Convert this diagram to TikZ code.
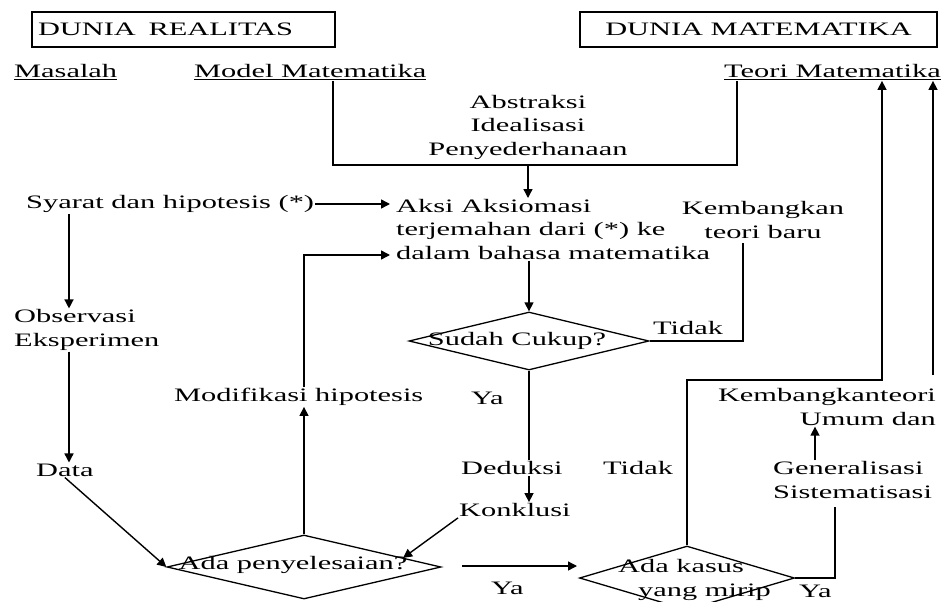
\documentclass[tikz,border=0pt]{standalone}
\usepackage{fontspec}
\setmainfont{Liberation Serif}[FakeStretch=1.6]
\usetikzlibrary{arrows.meta,shapes.geometric,calc}
\begin{document}
\begin{tikzpicture}[x=1pt,y=-1pt,
  every node/.style={inner sep=1pt, font=\fontsize{19}{23.5}\selectfont, text=black},
  box/.style={draw, line width=1.3pt, minimum height=35pt, inner xsep=6pt},
  dia/.style={draw, diamond, line width=1.3pt, inner sep=0pt},
  ln/.style={line width=1.4pt},
  arr/.style={line width=1.4pt, -{Triangle[length=9pt,width=9pt]}}]
\useasboundingbox (0,0) rectangle (950,602);
% header boxes
\node[box, text width=291pt, align=left] (dr) at (183.5,29.5) {DUNIA\ \ REALITAS};
\node[box, minimum width=357pt] (dm) at (758.5,29.5) {DUNIA MATEMATIKA};
% titles
\node[anchor=west] (masalah) at (13,72) {\underline{Masalah}};
\node[anchor=west] (model) at (193,72) {\underline{Model Matematika}};
\node[anchor=west] (teori) at (723,72) {\underline{Teori Matematika}};
% texts
\node[align=center] (abs) at (528,127) {Abstraksi\\Idealisasi\\Penyederhanaan};
\node[anchor=west] (syarat) at (25,204) {Syarat dan hipotesis (*)};
\node[anchor=north west, align=left] (aksi) at (395,198) {Aksi Aksiomasi\\terjemahan dari (*) ke\\dalam bahasa matematika};
\node[align=center] (kemb) at (763,220) {Kembangkan\\teori baru};
\node[anchor=west, align=left] (obs) at (13,330) {Observasi\\Eksperimen};
\node[anchor=west] (modif) at (173,397) {Modifikasi hipotesis};
\node[anchor=west] (data) at (35,470) {Data};
\node[anchor=west] (ded) at (460,468) {Deduksi};
\node[anchor=west] (konk) at (458,510) {Konklusi};
\node[anchor=west, align=left] (gen) at (772,480) {Generalisasi\\Sistematisasi};
\node[anchor=east, align=right] (umum) at (937,407) {Kembangkanteori\\Umum dan};
% labels
\node[anchor=west] (tidak1) at (652,328) {Tidak};
\node[anchor=west] (ya1) at (470,398) {Ya};
\node[anchor=west] (tidak2) at (602,468) {Tidak};
\node[anchor=west] (ya2) at (490,588) {Ya};
\node[anchor=west] (ya3) at (798,591) {Ya};
% diamonds
\node[dia, minimum width=240pt, minimum height=58pt] (sudah) at (529,341) {};
\node (sudaht) at (517,341) {Sudah Cukup?};
\node[dia, minimum width=274pt, minimum height=64pt] (ap) at (304,567) {};
\node (apt) at (293,565) {Ada penyelesaian?};
\node[dia, minimum width=215pt, minimum height=64pt] (ak) at (687,578) {};
\node[anchor=west, align=left] (akt) at (617,580) {Ada kasus\\\hspace*{20pt}yang mirip};
% coordinates
\coordinate (mL) at (333,165);
\coordinate (mR) at (737,165);
\coordinate (mA) at (528,165);
\coordinate (xa) at (69,0);
\coordinate (a3) at (390,255);
\coordinate (kb) at (743,243);
\coordinate (t1) at (882,380);
\coordinate (t2) at (933,375);
\coordinate (g1) at (835,507);
\coordinate (h1) at (462,566);
\coordinate (h2) at (577,566);
\coordinate (ux) at (815,0);
% connectors
\draw[ln] (mL |- model.south) -- (mL) -- (mR) -- (mR |- teori.south);
\draw[arr] (mA) -- (mA |- aksi.north);
\draw[arr] (syarat.east) -- (syarat.east -| a3);
\draw[arr] (xa |- syarat.south) -- (xa |- obs.north);
\draw[arr] (xa |- obs.south) -- (xa |- data.north);
\draw[arr] (data.south) -- (ap.west);
\draw[arr] (ap.north) -- (ap.north |- modif.south);
\draw[arr] (ap.north |- modif.north) |- (a3);
\draw[arr] (sudah.north |- aksi.south) -- (sudah.north);
\draw[ln] (sudah.east) -| (kb);
\draw[ln] (sudah.south) -- (sudah.south |- ded.north);
\draw[arr] (sudah.south |- ded.south) -- (sudah.south |- konk.north);
\draw[arr] (konk.south west) -- ($(ap.north)!0.72!(ap.east)$);
\draw[arr] (h1) -- (h2);
\draw[arr] (ak.north) |- (t1) -- (t1 |- teori.south);
\draw[arr] (t2) -- (t2 |- teori.south);
\draw[ln] (ak.east) -| (g1);
\draw[arr] (ux |- gen.north) -- (ux |- umum.south);
\end{tikzpicture}
\end{document}
